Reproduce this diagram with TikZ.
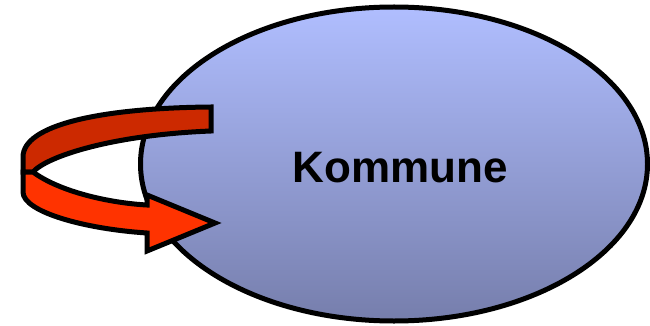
\documentclass[tikz,border=0pt]{standalone}
\usepackage{fontspec}
\setmainfont{Liberation Sans}
\usetikzlibrary{shapes.geometric}
\definecolor{ellTop}{RGB}{176,190,255}
\definecolor{ellBot}{RGB}{118,126,172}
\definecolor{bandBack}{RGB}{204,41,0}
\definecolor{bandFront}{RGB}{255,51,0}
\tikzset{
  bubble/.style={ellipse, draw=black, line width=5pt, top color=ellTop, bottom color=ellBot,
    minimum width=507pt, minimum height=314pt, inner sep=0pt},
  ribbon/.style={draw=black, line width=5pt, line join=miter, miter limit=10},
  title/.style={font=\bfseries\fontsize{44pt}{48pt}\selectfont, text=black}
}
\begin{document}
\begin{tikzpicture}[x=1pt, y=-1pt]
\useasboundingbox (0,0) rectangle (650,326);
\node[bubble] (kommune) at (394,164) {};
\node[title] (label) at (400,168) {Kommune};
% back (upper) part of the turning arrow
\path[ribbon, fill=bandBack]
  (211,107) .. controls (100,108) and (23,125) .. (23,157)
  -- (23,172) -- (33,172)
  .. controls (46,157) and (110,135) .. (211,131) -- cycle;
% front (lower) part with head
\path[ribbon, fill=bandFront]
  (23,172) -- (33,172)
  .. controls (60,192) and (110,203) .. (147,205)
  -- (147,195) -- (215,223) -- (147,251) -- (147,233)
  .. controls (85,229) and (23,212) .. (23,192) -- cycle;
\end{tikzpicture}
\end{document}
